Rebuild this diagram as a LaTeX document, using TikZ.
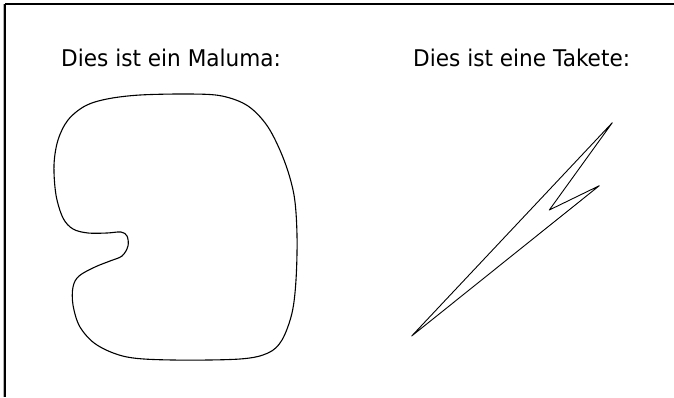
\documentclass[tikz,border=0pt]{standalone}
\usepackage{fontspec}
\setmainfont{DejaVu Sans}[FakeStretch=0.94]
\begin{document}
\begin{tikzpicture}[x=1pt,y=-1pt,
  outline/.style={draw=black,line width=1.1pt,line join=round},
  frameline/.style={draw=black,line width=1.4pt},
  shadowline/.style={draw=black!30,line width=1pt},
  caption/.style={anchor=base west,inner sep=0pt,font=\fontsize{23}{27}\selectfont}]
\useasboundingbox (0,0) rectangle (674,397);
% frame
\draw[shadowline] (3.2,4) -- (3.2,397);
\draw[frameline] (5,4) -- (5,397);
\draw[frameline] (5,4) -- (674,4);
% captions
\node[caption] (maltext) at (61,66) {Dies ist ein Maluma:};
\node[caption] (taktext) at (413,66) {Dies ist eine Takete:};
% Maluma
\draw[outline] plot[smooth cycle,tension=0.55] coordinates {
 (140,95) (190,94) (222,96) (248,106) (268,127) (284,160) (294,195)
 (297,235) (296,280) (292,313) (282,340) (268,353) (240,359) (173,360)
 (127,357) (97,345) (80,327) (73,305) (73,287) (79,276) (95,267)
 (110,261) (122,256) (128,246) (127,236) (121,232) (107,233) (88,233)
 (73,229) (63,218) (56,195) (54,165) (58,140) (68,120) (85,106) (107,99)};
% Takete
\coordinate (tb) at (411.7,336);
\coordinate (tt) at (612.3,122.7);
\coordinate (tn) at (549.3,210);
\coordinate (tr) at (599.3,185.7);
\draw[outline,line width=0.9pt] (tb) -- (tt) -- (tn) -- (tr) -- cycle;
\end{tikzpicture}
\end{document}
